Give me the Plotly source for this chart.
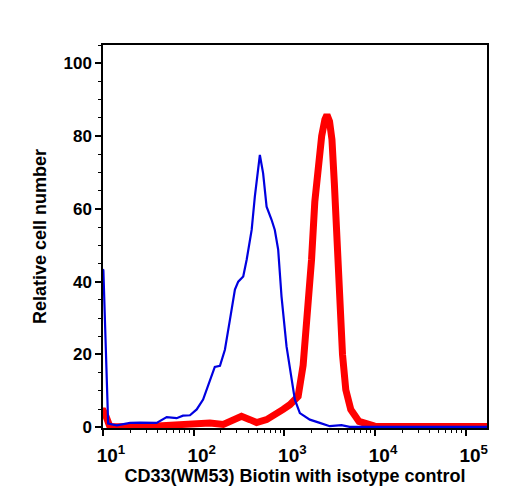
import plotly.graph_objects as go

# Isotype control (blue) histogram: fluorescence intensity vs relative cell number
iso_x = [10.0, 10.1, 11.4, 14.2, 19.9, 25.6, 39.1, 50.4, 64.9, 76.2, 91.0, 108, 127, 151, 171, 195,
         221, 251, 285, 310, 352, 384, 436, 473, 537, 583, 637, 723, 785, 855, 931, 1057,
         1151, 1306, 1483, 1910, 2460, 3170, 4266, 5250, 7000, 10000, 20000, 50000, 100000, 172000]
iso_y = [43.5, 43.0, 1.0, 0.5, 1.2, 1.3, 1.2, 2.8, 2.5, 3.2, 3.3, 4.9, 7.6, 13.1, 16.6, 16.9,
         21.3, 29.5, 37.8, 40.0, 41.4, 46.0, 54.2, 63.4, 74.8, 69.8, 60.6, 57.0, 54.2, 48.8, 35.9, 22.2,
         15.8, 7.6, 3.9, 2.1, 1.2, 0.3, 0.6, 0.1, 0.1, 0.1, 0.1, 0.1, 0.1, 0.1]

# CD33 (WM53) Biotin stained (red) histogram
cd33_x = [10.0, 10.1, 10.8, 11.9, 25.6, 70.5, 117, 151, 212, 273, 337, 417, 494, 637, 820, 970,
          1151, 1420, 1611, 1828, 1995, 2168, 2350, 2580, 2800, 2950, 3150, 3350, 3560, 3860,
          4040, 4380, 4760, 5400, 6660, 8380, 9920, 20000, 172000]
cd33_y = [4.5, 4.5, 3.0, 0.2, 0.1, 0.5, 0.7, 1.2, 0.8, 2.1, 3.0, 2.1, 1.3, 2.1, 3.5, 4.9,
          6.2, 8.5, 17.0, 32.0, 46.0, 62.0, 72.0, 80.0, 84.5, 85.8, 84.0, 79.0, 67.0, 48.0,
          35.0, 20.0, 10.3, 4.9, 1.6, 0.7, 0.3, 0.2, 0.2]

x_tickvals = [10, 100, 1000, 10000, 100000]
x_ticktext = ["10<sup>1</sup>", "10<sup>2</sup>", "10<sup>3</sup>", "10<sup>4</sup>", "10<sup>5</sup>"]
x_minor = [m * 10 ** e for e in range(1, 6) for m in range(2, 10)]
y_tickvals = [0, 20, 40, 60, 80, 100]

font_family = "Liberation Sans, Arial, sans-serif"

fig = go.Figure()
fig.add_trace(go.Scatter(x=cd33_x, y=cd33_y, mode="lines",
                         line=dict(color="#ff0000", width=7), showlegend=False))
fig.add_trace(go.Scatter(x=iso_x, y=iso_y, mode="lines",
                         line=dict(color="#0000e0", width=2.2), showlegend=False))

fig.update_layout(
    width=508, height=500,
    margin=dict(l=103, r=21, t=45, b=72),
    paper_bgcolor="white", plot_bgcolor="white",
    font=dict(family=font_family, color="black"),
)
fig.update_xaxes(
    type="log", range=[1, 5.235],
    tickvals=x_tickvals, ticktext=x_ticktext,
    ticks="outside", ticklen=6, tickwidth=1.5, tickcolor="black",
    minor=dict(tickvals=x_minor, ticks="outside", ticklen=3, tickwidth=1, tickcolor="black"),
    tickfont=dict(size=19, family=font_family, weight="bold"),
    ticklabelstandoff=3, ticklabelshift=8,
    showline=True, linecolor="black", linewidth=1.5, mirror=True,
    showgrid=False, zeroline=False,
    title=dict(text="CD33(WM53) Biotin with isotype control",
               font=dict(size=18, family=font_family, weight="bold"), standoff=0),
)
fig.update_yaxes(
    range=[-0.2, 105],
    tickvals=y_tickvals,
    ticks="outside", ticklen=6, tickwidth=1.5, tickcolor="black",
    minor=dict(dtick=5, ticks="outside", ticklen=3, tickwidth=1, tickcolor="black"),
    tickfont=dict(size=17, family=font_family, weight="bold"),
    showline=True, linecolor="black", linewidth=1.5, mirror=True,
    showgrid=False, zeroline=False,
    title=dict(text="Relative cell number",
               font=dict(size=18, family=font_family, weight="bold"), standoff=12),
)

fig.write_html("out.html")
